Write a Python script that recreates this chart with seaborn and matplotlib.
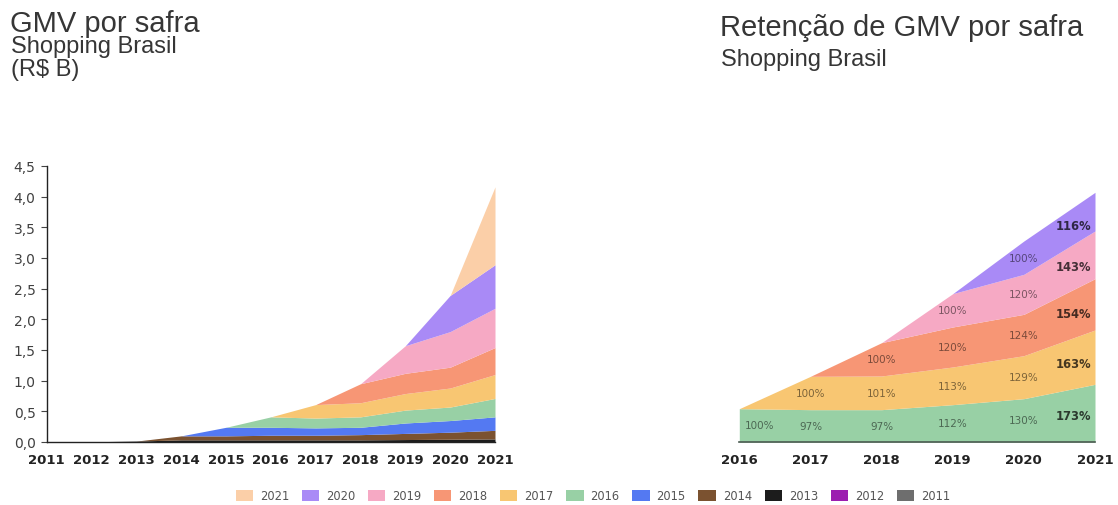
import numpy as np
import pandas as pd
import seaborn as sns
import matplotlib.pyplot as plt
from matplotlib.patches import Patch
from matplotlib.colors import to_rgb

sns.set_theme(style="white")
plt.rcParams["font.family"] = ["DejaVu Sans"]

# ---- data -------------------------------------------------------------
years = [2011, 2012, 2013, 2014, 2015, 2016, 2017, 2018, 2019, 2020, 2021]
cohorts = [2011, 2012, 2013, 2014, 2015, 2016, 2017, 2018, 2019, 2020, 2021]

# GMV (R$ B) contributed by each cohort in each year
gmv_2011 = [0.001, 0.002, 0.002, 0.002, 0.002, 0.002, 0.002, 0.002, 0.002, 0.002, 0.002]
gmv_2012 = [0.0, 0.002, 0.003, 0.003, 0.003, 0.003, 0.003, 0.003, 0.003, 0.003, 0.003]
gmv_2013 = [0.0, 0.0, 0.010, 0.030, 0.030, 0.030, 0.030, 0.030, 0.035, 0.040, 0.045]
gmv_2014 = [0.0, 0.0, 0.0, 0.065, 0.065, 0.075, 0.075, 0.085, 0.100, 0.115, 0.140]
gmv_2015 = [0.0, 0.0, 0.0, 0.0, 0.140, 0.130, 0.120, 0.120, 0.170, 0.190, 0.220]
gmv_2016 = [0.0, 0.0, 0.0, 0.0, 0.0, 0.170, 0.160, 0.170, 0.210, 0.220, 0.300]
gmv_2017 = [0.0, 0.0, 0.0, 0.0, 0.0, 0.0, 0.220, 0.230, 0.270, 0.310, 0.390]
gmv_2018 = [0.0, 0.0, 0.0, 0.0, 0.0, 0.0, 0.0, 0.310, 0.330, 0.340, 0.440]
gmv_2019 = [0.0, 0.0, 0.0, 0.0, 0.0, 0.0, 0.0, 0.0, 0.450, 0.580, 0.640]
gmv_2020 = [0.0, 0.0, 0.0, 0.0, 0.0, 0.0, 0.0, 0.0, 0.0, 0.590, 0.710]
gmv_2021 = [0.0, 0.0, 0.0, 0.0, 0.0, 0.0, 0.0, 0.0, 0.0, 0.0, 1.270]

# GMV retention (% of first-year GMV) for cohorts 2016-2020
ret_years = [2016, 2017, 2018, 2019, 2020, 2021]
ret_cohorts = [2016, 2017, 2018, 2019, 2020]
ret_2016 = [100, 97, 97, 112, 130, 173]
ret_2017 = [0, 100, 101, 113, 129, 163]
ret_2018 = [0, 0, 100, 120, 124, 154]
ret_2019 = [0, 0, 0, 100, 120, 143]
ret_2020 = [0, 0, 0, 0, 100, 116]

y_ticks = [0.0, 0.5, 1.0, 1.5, 2.0, 2.5, 3.0, 3.5, 4.0, 4.5]

# ---- styling ----------------------------------------------------------
colors = {
    2021: "#FBCFA8",
    2020: "#A98AF6",
    2019: "#F6A9C4",
    2018: "#F79675",
    2017: "#F8C672",
    2016: "#98D0A5",
    2015: "#5479F2",
    2014: "#7B5230",
    2013: "#1C1C1C",
    2012: "#9C1EB0",
    2011: "#6E6E6E",
}
text_col = "#363636"


def darker(c, f):
    r, g, b = to_rgb(c)
    return (r * (1 - f), g * (1 - f), b * (1 - f))


W, H = 1118, 506
fig = plt.figure(figsize=(W / 100, H / 100), dpi=100)

# ---- left: GMV by cohort ---------------------------------------------
gmv = pd.DataFrame(
    {c: v for c, v in zip(cohorts, [gmv_2011, gmv_2012, gmv_2013, gmv_2014, gmv_2015,
                                    gmv_2016, gmv_2017, gmv_2018, gmv_2019, gmv_2020,
                                    gmv_2021])},
    index=years,
)
ax1 = fig.add_axes([46.7 / W, 1 - 443 / H, (495 - 46.7) / W, (443 - 167) / H])
ax1.stackplot(gmv.index, [gmv[c].values for c in cohorts],
              colors=[colors[c] for c in cohorts], linewidth=0)
ax1.set_xlim(2011, 2021)
ax1.set_ylim(0, 4.5)
ax1.set_yticks(y_ticks)
ax1.set_yticklabels([f"{t:.1f}".replace(".", ",") for t in y_ticks],
                    fontsize=10, color="#404040")
ax1.set_xticks(years)
ax1.set_xticklabels([str(y) for y in years], fontsize=9.5, fontweight="bold", color="#222222")
ax1.tick_params(axis="y", which="both", left=True, length=4, width=0.8, color="#444444", pad=4)
ax1.tick_params(axis="x", bottom=False, pad=2)
sns.despine(ax=ax1, top=True, right=True)
for s in ("left", "bottom"):
    ax1.spines[s].set_color("#222222")
    ax1.spines[s].set_linewidth(1.0)

# ---- right: retention by cohort --------------------------------------
ret = pd.DataFrame(
    {c: v for c, v in zip(ret_cohorts, [ret_2016, ret_2017, ret_2018, ret_2019, ret_2020])},
    index=ret_years,
)
ax2 = fig.add_axes([739.3 / W, 1 - 443 / H, (1095 - 739.3) / W, (443 - 167) / H])
ax2.stackplot(ret.index, [ret[c].values for c in ret_cohorts],
              colors=[colors[c] for c in ret_cohorts], linewidth=0)
ax2.set_xlim(2016, 2021)
ax2.set_ylim(0, 828)
ax2.set_yticks([])
ax2.set_xticks(ret_years)
ax2.set_xticklabels([str(y) for y in ret_years], fontsize=9.5, fontweight="bold", color="#222222")
ax2.tick_params(axis="x", bottom=False, pad=2)
sns.despine(ax=ax2, top=True, right=True, left=True)
ax2.spines["bottom"].set_color("#4a5a50")
ax2.spines["bottom"].set_linewidth(1.2)

# value labels placed in the middle of each band
cum = ret[ret_cohorts].cumsum(axis=1)
xs = np.array(ret_years, dtype=float)
for c in ret_cohorts:
    top = cum[c].values.astype(float)
    bottom = top - ret[c].values
    for i, yr in enumerate(ret_years):
        val = ret.loc[yr, c]
        if val == 0:
            continue
        if yr == 2021:
            lx, bold, fs, dk = 2020.70, True, 8.3, 0.72
        elif yr == 2016:
            lx, bold, fs, dk = 2016.29, False, 7.5, 0.5
        else:
            lx, bold, fs, dk = float(yr), False, 7.5, 0.5
        ly = (np.interp(lx, xs, top) + np.interp(lx, xs, bottom)) / 2
        ax2.text(lx, ly, f"{val}%", ha="center", va="center", fontsize=fs,
                 fontweight="bold" if bold else "normal", color=darker(colors[c], dk))

# ---- titles -----------------------------------------------------------
title_font = ["Liberation Sans", "DejaVu Sans"]
fig.text(10 / W, 1 - 31.7 / H, "GMV por safra", fontsize=21, family=title_font,
         color=text_col, va="baseline", ha="left")
fig.text(11 / W, 1 - 53 / H, "Shopping Brasil", fontsize=17, family=title_font,
         color=text_col, va="baseline", ha="left")
fig.text(11 / W, 1 - 76 / H, "(R$ B)", fontsize=17, family=title_font,
         color=text_col, va="baseline", ha="left")
fig.text(720 / W, 1 - 36.5 / H, "Retenção de GMV por safra", fontsize=21, family=title_font,
         color=text_col, va="baseline", ha="left")
fig.text(721 / W, 1 - 66 / H, "Shopping Brasil", fontsize=17, family=title_font,
         color=text_col, va="baseline", ha="left")

# ---- legend -----------------------------------------------------------
legend_order = [2021, 2020, 2019, 2018, 2017, 2016, 2015, 2014, 2013, 2012, 2011]
handles = [Patch(facecolor=colors[c], edgecolor="none", label=str(c)) for c in legend_order]
fig.legend(handles=handles, loc="center", bbox_to_anchor=(593 / W, 1 - 497 / H),
           ncol=len(handles), frameon=False, fontsize=8.3, handlelength=1.5,
           handleheight=1.1, handletextpad=0.6, columnspacing=1.1,
           labelcolor="#555555")

fig.savefig("out.png", dpi=100, facecolor="white")
